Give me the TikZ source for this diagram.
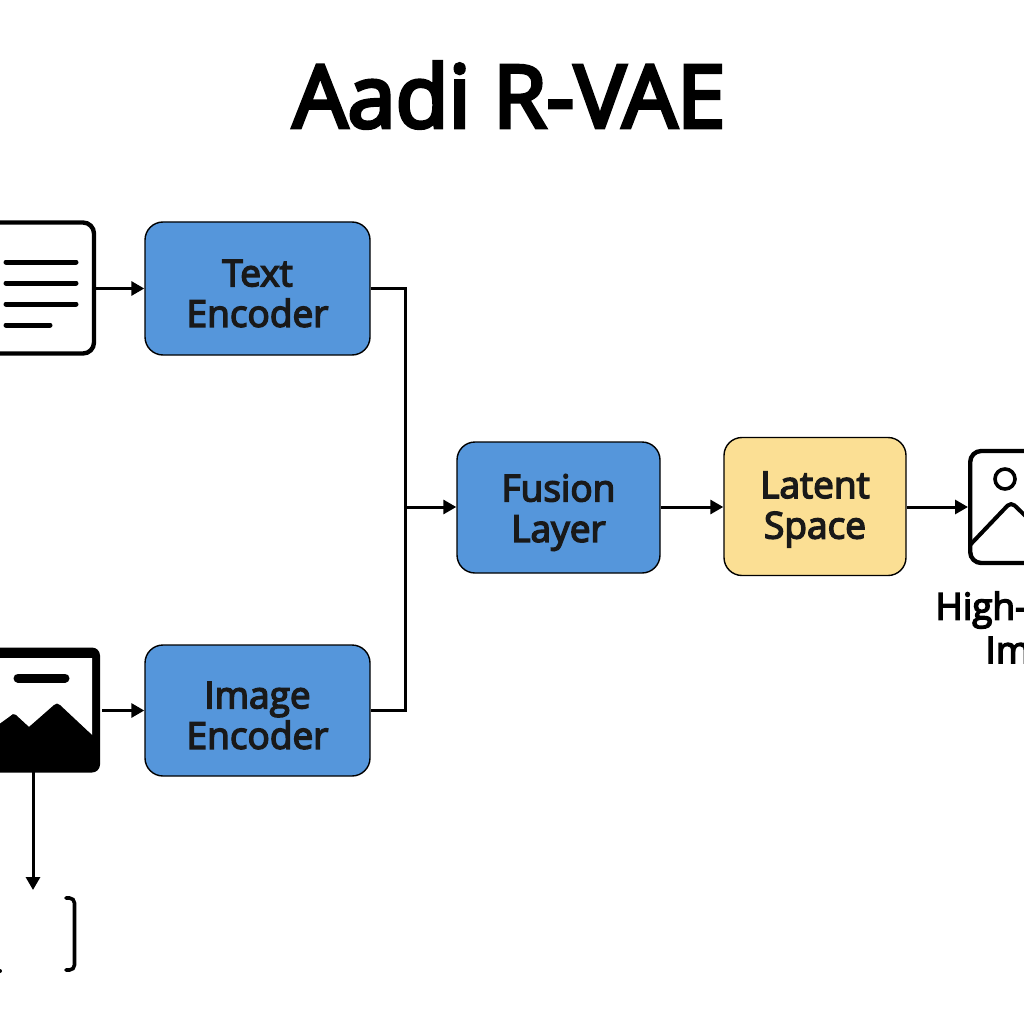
\documentclass[tikz,border=0pt]{standalone}
\usepackage{fontspec}
\setmainfont{Open Sans}
\usetikzlibrary{arrows.meta,positioning,calc}
\definecolor{bluebox}{HTML}{5596DB}
\definecolor{yellowbox}{HTML}{FBDF94}
\newfontfamily\semifont[FakeBold=4]{Open Sans}
\newfontfamily\titlefont[FakeBold=4.5]{Open Sans}
\tikzset{
  x=1pt,y=-1pt,
  boxlabel/.style={font=\semifont\fontsize{37}{40.5}\selectfont,align=center,text=black!90},
  block/.style={draw=black,line width=1.4pt,rounded corners=18pt,inner sep=0pt},
  bluebk/.style={block,fill=bluebox},
  yellowbk/.style={block,fill=yellowbox},
  conn/.style={draw=black,line width=3pt,-{Triangle[length=13pt,width=14pt]}},
  plainconn/.style={draw=black,line width=3pt,line join=miter},
  icon/.style={draw=black,line width=4.4pt,rounded corners=11pt,inner sep=0pt,fill=white},
  iconline/.style={draw=black,line width=5pt,line cap=round},
}
\begin{document}
\begin{tikzpicture}
\useasboundingbox (0,0) rectangle (1024,1024);
\clip (0,0) rectangle (1024,1024);
\node[font=\titlefont\fontsize{86.5}{90}\selectfont,text=black] (title) at (509,95) {Aadi R-VAE};

% document icon
\node[icon,minimum width=190pt,minimum height=131pt] (doc) at (-1,288) {};
\foreach \yy/\xe in {262/76,283/76,304/76,325/50}
  \draw[iconline] (6,\yy) -- (\xe,\yy);

% image icon
\node[icon,draw=none,fill=black,rounded corners=8pt,minimum width=200pt,minimum height=125pt] (imgicon) at (0,710) {};
\fill[white] (-5,658) -- (92,658) -- (92,735) -- (57,704) -- (29,727) -- (13,714) -- (-5,727) -- cycle;
\fill[black] (-5,730) -- (12,715) .. controls (13,714) and (15,714) .. (16,715) -- (29,727) -- (54,705) .. controls (56,703) and (58,703) .. (60,705) -- (92,735) -- (92,760) -- (-5,760) -- cycle;
\draw[line width=9pt,line cap=round] (18,678) -- (65,678);

% encoder blocks
\node[bluebk,minimum width=225pt,minimum height=133pt,label={[boxlabel,yshift=-5pt]center:{Text\\Encoder}}] (text) at (257.5,288.5) {};
\node[bluebk,minimum width=225pt,minimum height=131pt,label={[boxlabel,yshift=-5pt]center:{Image\\Encoder}}] (image) at (257.5,710.5) {};
\node[bluebk,minimum width=203pt,minimum height=131pt,label={[boxlabel,yshift=-5pt]center:{Fusion\\Layer}}] (fusion) at (558.5,507.5) {};
\node[yellowbk,minimum width=182pt,minimum height=138pt,label={[boxlabel,yshift=-3pt]center:{Latent\\Space}}] (latent) at (815,506.5) {};

% output icon
\node[icon,anchor=west,minimum width=120pt,minimum height=112pt] (out) at (968,507) {};
\draw[line width=3.6pt] (1005,479) circle (10pt);
\draw[line width=4pt,line join=round,rounded corners=5pt] (970,545) -- (1011,502) -- (1040,530);
\node[font=\semifont\fontsize{37}{40}\selectfont,anchor=west] (hq1) at (932,610) {High-};
\node[font=\semifont\fontsize{37}{40}\selectfont,anchor=west] (hq2) at (982,650) {Im};

% connectors
\coordinate (junction) at (405,507);
\draw[conn] (doc.east |- text.west) -- (text.west);
\draw[conn] (imgicon.east |- image.west) -- (image.west);
\draw[plainconn] (text.east) -| (junction) |- (image.east);
\draw[conn] (junction) -- (fusion.west |- junction);
\draw[conn] (fusion.east |- junction) -- (latent.west |- junction);
\draw[conn] (latent.east |- junction) -- (out.west);

% image icon down arrow and cut-off bracket
\coordinate (bracketend) at (33,890);
\draw[conn] (33,772) -- (bracketend);
\draw[black,line width=3.6pt,line cap=round,rounded corners=5pt] (66,898) -- (74.5,898) -- (74.5,970) -- (66,970);
\fill[black] (0,971) circle (2pt);
\end{tikzpicture}
\end{document}
